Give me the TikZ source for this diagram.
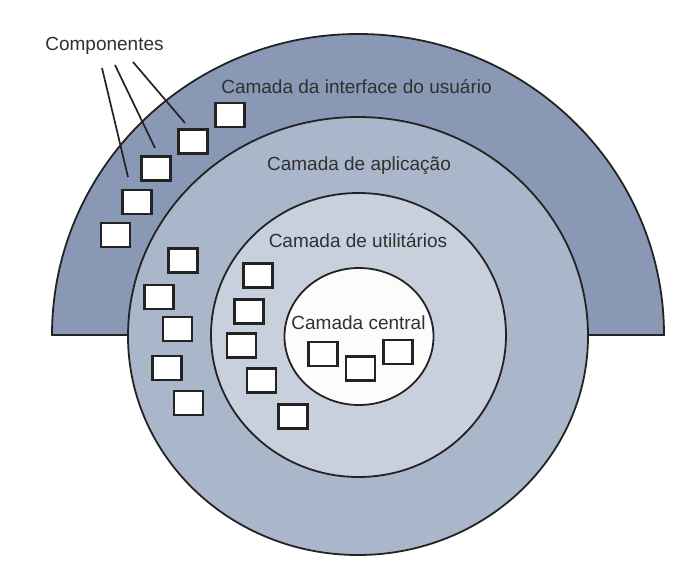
\documentclass[tikz,border=0pt]{standalone}
\usepackage{fontspec}
\setmainfont{Liberation Sans}
\definecolor{uiblue}{HTML}{8999B5}
\definecolor{appblue}{HTML}{AAB6CA}
\definecolor{utilblue}{HTML}{C8D0DD}
\definecolor{corewhite}{HTML}{FCFCFC}
\definecolor{ink}{HTML}{232323}
\definecolor{txt}{HTML}{303030}
\tikzset{
  layer/.style={draw=ink, line width=1.8pt},
  comp/.style={draw=ink, fill=white, line width=2.8pt, minimum width=29pt, minimum height=24pt, inner sep=0pt},
  lbl/.style={text=txt, font=\fontsize{19}{22}\selectfont, inner sep=0pt, anchor=base},
  pointer/.style={draw=ink, line width=1.7pt}
}
\begin{document}
\begin{tikzpicture}[x=1pt,y=-1pt]
\useasboundingbox (0,0) rectangle (698,587);
\fill[white] (0,0) rectangle (698,587);
% layers
\filldraw[layer, fill=uiblue] (52,335) arc[start angle=180,end angle=360,x radius=306,y radius=301] -- cycle;
\filldraw[layer, fill=appblue] (358,336) ellipse [x radius=230, y radius=219];
\filldraw[layer, fill=utilblue] (358.5,335) ellipse [x radius=147.5, y radius=142];
\filldraw[layer, fill=corewhite] (359,336.5) ellipse [x radius=74.5, y radius=68.5];
% interface layer components
\node[comp] (ui1) at (230,115) {};
\node[comp] (ui2) at (193,141.5) {};
\node[comp] (ui3) at (156,168.5) {};
\node[comp] (ui4) at (137,202) {};
\node[comp] (ui5) at (115.5,235) {};
% application layer components
\node[comp] (ap1) at (183,260.5) {};
\node[comp] (ap2) at (159,297) {};
\node[comp] (ap3) at (177.5,329) {};
\node[comp] (ap4) at (167,368) {};
\node[comp] (ap5) at (188.5,403) {};
% utility layer components
\node[comp] (ut1) at (258,275.5) {};
\node[comp] (ut2) at (249,311.5) {};
\node[comp] (ut3) at (241.5,345.5) {};
\node[comp] (ut4) at (261.5,380.5) {};
\node[comp] (ut5) at (293,416.5) {};
% core components
\node[comp] (co1) at (323,354) {};
\node[comp] (co2) at (360.5,368.5) {};
\node[comp] (co3) at (398,352) {};
% labels
\node[lbl] (tcomp) at (104.5,50) {Componentes};
\node[lbl] (tui) at (356.5,93) {Camada da interface do usuário};
\node[lbl] (tapp) at (359,170) {Camada de aplicação};
\node[lbl] (tutil) at (358,247) {Camada de utilitários};
\node[lbl] (tcore) at (358.5,329) {Camada central};
% pointers
\coordinate (p1s) at (102,68);
\coordinate (p2s) at (115,65);
\coordinate (p3s) at (133,62);
\coordinate (p1e) at (128,177);
\coordinate (p2e) at (155,148);
\coordinate (p3e) at (185,123);
\draw[pointer] (p1s) -- (p1e);
\draw[pointer] (p2s) -- (p2e);
\draw[pointer] (p3s) -- (p3e);
\end{tikzpicture}
\end{document}
